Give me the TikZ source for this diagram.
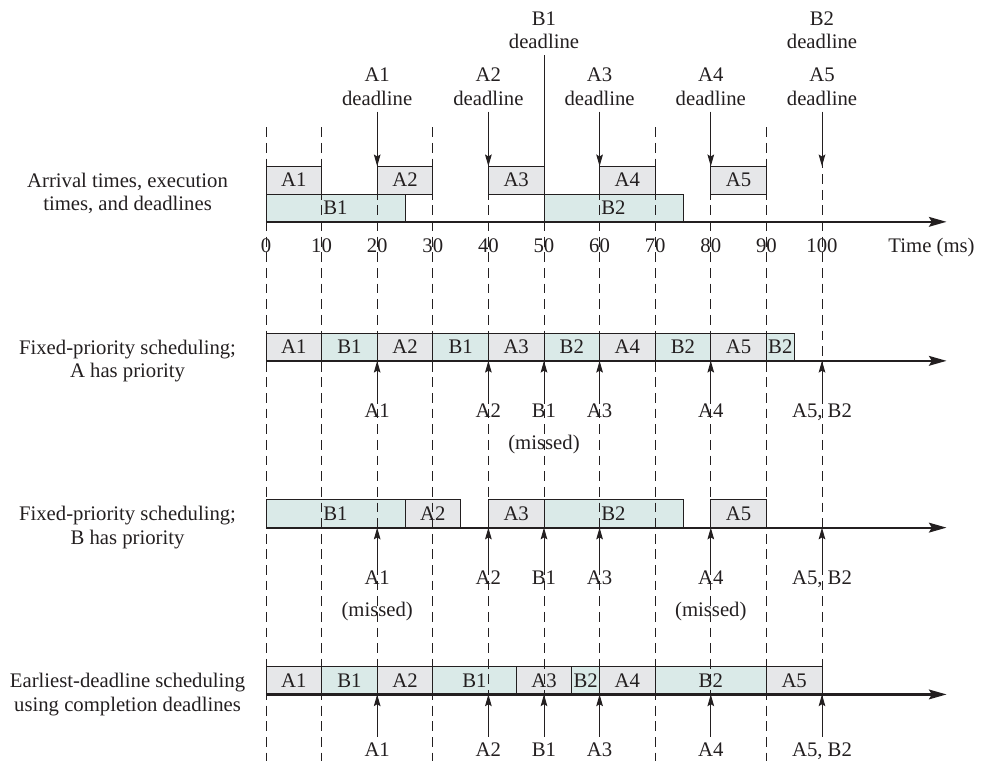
\documentclass[tikz,border=0pt]{standalone}
\usepackage{fontspec}
\setmainfont{Liberation Serif}
\usetikzlibrary{arrows.meta}
\definecolor{cjoba}{HTML}{E6E7E9}
\definecolor{cjobb}{HTML}{DAEAE8}
\definecolor{cink}{HTML}{231F20}
\tikzset{
  every picture/.style={font=\fontsize{10.6}{11.9}\selectfont, line width=0.5pt, color=cink},
  jobbox/.style={draw, inner sep=0pt, outer sep=0pt, minimum height=0.5cm, anchor=south west},
  ajob/.style={jobbox, fill=cjoba},
  bjob/.style={jobbox, fill=cjobb},
  guide/.style={dash pattern=on 5pt off 3pt},
  axisline/.style={-{Stealth[length=9pt, width=5pt, inset=1.5pt]}, line width=1.1pt},
  darrow/.style={-{Stealth[length=6pt, width=3.4pt, inset=1pt]}},
  lbl/.style={inner sep=0pt, text height=7pt, text depth=0pt},
  lblw/.style={lbl, fill=white, inner sep=3pt},
  dline/.style={align=center, inner sep=3pt, anchor=south},
  side/.style={align=center},
}

\begin{document}
\begin{tikzpicture}[x=1mm, y=1cm]
  \useasboundingbox (-47.84,3.99) rectangle (129.32,-9.70);
  % arrival times and execution times
  \foreach \s/\e/\n [count=\i] in {0/10/A1, 20/30/A2, 40/50/A3, 60/70/A4, 80/90/A5} {\node[ajob, minimum width={(\e-\s)*1mm}] (r1a\i) at (\s,0.5) {\n};}
  \foreach \s/\e/\n [count=\i] in {0/25/B1, 50/75/B2} {\node[bjob, minimum width={(\e-\s)*1mm}] (r1b\i) at (\s,0) {\n};}
  % fixed priority, A first
  \foreach \s/\e/\n/\k [count=\i] in {0/10/A1/ajob, 10/20/B1/bjob, 20/30/A2/ajob, 30/40/B1/bjob, 40/50/A3/ajob, 50/60/B2/bjob,
    60/70/A4/ajob, 70/80/B2/bjob, 80/90/A5/ajob, 90/95/B2/bjob} {\node[\k, minimum width={(\e-\s)*1mm}] (r2j\i) at (\s,-2.5) {\n};}
  % fixed priority, B first
  \foreach \s/\e/\n/\k [count=\i] in {0/25/B1/bjob, 25/35/A2/ajob, 40/50/A3/ajob, 50/75/B2/bjob, 80/90/A5/ajob} {\node[\k, minimum width={(\e-\s)*1mm}] (r3j\i) at (\s,-5.5) {\n};}
  % earliest deadline
  \foreach \s/\e/\n/\k [count=\i] in {0/10/A1/ajob, 10/20/B1/bjob, 20/30/A2/ajob, 30/45/B1/bjob, 45/55/A3/ajob, 55/60/B2/bjob,
    60/70/A4/ajob, 70/90/B2/bjob, 90/100/A5/ajob} {\node[\k, minimum width={(\e-\s)*1mm}] (r4j\i) at (\s,-8.5) {\n};}

  \foreach \t in {0,10,...,100} {\draw[guide] (\t,1.7) -- (\t,-9.7);}
  \foreach \r/\y in {1/0, 2/-2.5, 3/-5.5, 4/-8.5} {\coordinate (o\r) at (0,\y); \coordinate (e\r) at (122.4,\y); \draw[axisline] (o\r) -- (e\r);}

  % deadlines on top
  \foreach \t/\n in {20/A1, 40/A2, 60/A3, 80/A4, 100/A5} {\node[dline] (d\n) at (\t,1.98) {\n\\deadline}; \coordinate (h\n) at (\t,1); \draw[darrow] (d\n) -- (h\n);}
  \node[dline] (dB1) at (50,3.0) {B1\\deadline};
  \coordinate (hB1) at (50,0);
  \draw (dB1) -- (hB1);
  \node[dline] (dB2) at (100,3.0) {B2\\deadline};

  \foreach \t in {0,10,...,100} {\node[lbl] (tk\t) at (\t,-0.42) {\t};}
  \node[lbl] (tunit) at (119.7,-0.42) {Time (ms)};

  % deadlines under each schedule
  \foreach \r/\y/\d/\st in {2/-2.5/0.9/lbl, 3/-5.5/0.9/lbl, 4/-8.5/1.0/lblw} {
    \foreach \t/\n [count=\i] in {20/A1, 40/A2, 50/B1, 60/A3, 80/A4, 100/{A5, B2}} {\node[\st] (m\r\i) at (\t,\y-\d) {\n}; \coordinate (p\r\i) at (\t,\y); \draw[darrow] (m\r\i) -- (p\r\i);}}
  \node[lbl] (x21) at (50,-3.97) {(missed)};
  \node[lbl] (x31) at (20,-6.97) {(missed)};
  \node[lbl] (x32) at (80,-6.97) {(missed)};

  \node[side] (s1) at (-24.9,0.51) {Arrival times, execution\\times, and deadlines};
  \node[side] (s2) at (-24.9,-2.5) {Fixed-priority scheduling;\\A has priority};
  \node[side] (s3) at (-24.9,-5.5) {Fixed-priority scheduling;\\B has priority};
  \node[side] (s4) at (-24.9,-8.5) {Earliest-deadline scheduling\\using completion deadlines};
\end{tikzpicture}
\end{document}
